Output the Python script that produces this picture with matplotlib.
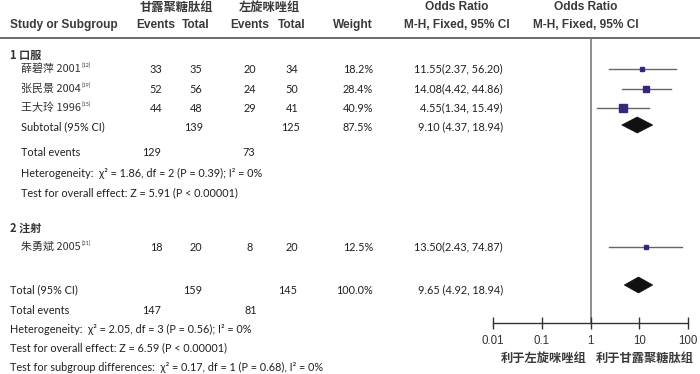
import matplotlib
matplotlib.use("Agg")
import matplotlib.pyplot as plt
from matplotlib.patches import Polygon
import numpy as np

# ---------------- data ----------------
groups = ["1 口服", "2 注射"]
study_names = ["薛碧萍 2001", "张民景 2004", "王大玲 1996", "朱勇斌 2005"]
study_refs = ["[12]", "[19]", "[15]", "[21]"]
study_group = [0, 0, 0, 1]
exp_events = [33, 52, 44, 18]
exp_total = [35, 56, 48, 20]
ctl_events = [20, 24, 29, 8]
ctl_total = [34, 50, 41, 20]
weights = [18.2, 28.4, 40.9, 12.5]
or_vals = [11.55, 14.08, 4.55, 13.50]
or_lo = [2.37, 4.42, 1.34, 2.43]
or_hi = [56.20, 44.86, 15.49, 74.87]

sub_exp_total = [139]
sub_ctl_total = [125]
sub_weight = [87.5]
sub_or = [9.10]
sub_lo = [4.37]
sub_hi = [18.94]
sub_exp_events = [129]
sub_ctl_events = [73]
sub_het = ["Heterogeneity:  χ² = 1.86, df = 2 (P = 0.39); I² = 0%"]
sub_test = ["Test for overall effect: Z = 5.91 (P < 0.00001)"]

tot_exp_total = 159
tot_ctl_total = 145
tot_weight = 100.0
tot_or = 9.65
tot_lo = 4.92
tot_hi = 18.94
tot_exp_events = 147
tot_ctl_events = 81
tot_het = "Heterogeneity:  χ² = 2.05, df = 3 (P = 0.56); I² = 0%"
tot_test = "Test for overall effect: Z = 6.59 (P < 0.00001)"
sub_diff = "Test for subgroup differences:  χ² = 0.17, df = 1 (P = 0.68), I² = 0%"

axis_ticks = [0.01, 0.1, 1, 10, 100]
axis_ticklabels = ["0.01", "0.1", "1", "10", "100"]
favours_left = "利于左旋咪唑组"
favours_right = "利于甘露聚糖肽组"
grp_exp_label = "甘露聚糖肽组"
grp_ctl_label = "左旋咪唑组"

# ---------------- layout ----------------
W, H = 700, 374
fig = plt.figure(figsize=(7.0, 3.74), dpi=100)
ax = fig.add_axes([0, 0, 1, 1])
ax.set_xlim(0, W)
ax.set_ylim(H, 0)
ax.axis("off")

TXT = "#231f20"
BODY = dict(family=["Lato", "DejaVu Sans"], fontsize=7.8, color=TXT, va="center")
CJK = dict(family=["Noto Sans CJK SC", "DejaVu Sans"], fontsize=7.9, color="#333333", va="center")
HEAD = dict(family=["Liberation Sans Narrow", "Liberation Sans", "DejaVu Sans"], fontsize=8.6,
            fontweight="bold", color="#3a3a3a", va="center")
HEADCJK = dict(family=["Noto Sans CJK SC"], fontsize=8.8, fontweight="bold", color="#3a3a3a", va="center")

x_ee, x_et, x_ce, x_ct = 156, 196, 250, 292
x_w = 373
x_or = 503
x_indent = 21
x_left = 10

# headers
ax.text(176, 7, grp_exp_label, ha="center", **HEADCJK)
ax.text(269, 7, grp_ctl_label, ha="center", **HEADCJK)
ax.text(x_left, 25, "Study or Subgroup", ha="left", **HEAD)
for xx, t in [(x_ee, "Events"), (x_et, "Total"), (x_ce, "Events"), (x_ct, "Total")]:
    ax.text(xx, 25, t, ha="center", **HEAD)
ax.text(x_w, 25, "Weight", ha="right", **HEAD)
ax.text(457, 7, "Odds Ratio", ha="center", **HEAD)
ax.text(457, 25, "M-H, Fixed, 95% CI", ha="center", **HEAD)
ax.text(586, 7, "Odds Ratio", ha="center", **HEAD)
ax.text(586, 25, "M-H, Fixed, 95% CI", ha="center", **HEAD)
ax.plot([0, W], [38, 38], color="#6a6a6a", lw=1.4, solid_capstyle="butt")

# forest axes
y_top, y_axis = 38, 323
axf = fig.add_axes([493 / W, (H - y_axis) / H, 195 / W, (y_axis - y_top) / H])
axf.set_xscale("log")
axf.set_xlim(axis_ticks[0], axis_ticks[-1])
axf.set_ylim(y_axis, y_top)
axf.patch.set_alpha(0)
for s in ["top", "left", "right"]:
    axf.spines[s].set_visible(False)
axf.spines["bottom"].set_color("#333333")
axf.spines["bottom"].set_linewidth(1.0)
axf.set_yticks([])
axf.set_xticks(axis_ticks)
axf.set_xticklabels(axis_ticklabels)
axf.minorticks_off()
axf.tick_params(axis="x", direction="inout", length=8, width=1.0, color="#333333",
                labelsize=8.3, labelcolor="#333333", pad=5)
for lab in axf.get_xticklabels():
    lab.set_family(["Liberation Sans", "DejaVu Sans"])
axf.axvline(1, color="#7a7a7a", lw=1.2, zorder=1)

SQ = "#3b2480"

def diamond(y, c, lo, hi, h=8):
    p = Polygon([[lo, y], [c, y - h], [hi, y], [c, y + h]], closed=True,
                facecolor="#111111", edgecolor="#111111", lw=0.5, zorder=3)
    axf.add_patch(p)

# rows
group_label_y = [55, 228]
study_y = [69, 89, 108, 247]
sub_y = [127]
sub_events_y = [152]
sub_het_y = [173]
sub_test_y = [193]

for gi, g in enumerate(groups):
    ax.text(x_left, group_label_y[gi], g, ha="left",
            family=["Noto Sans CJK SC"], fontsize=8.0, fontweight="bold", color="#333333", va="center")

name_texts = []
for i in range(len(study_names)):
    y = study_y[i]
    t = ax.text(x_indent, y, study_names[i], ha="left", **CJK)
    name_texts.append(t)
    ax.text(x_ee, y, str(exp_events[i]), ha="center", **BODY)
    ax.text(x_et, y, str(exp_total[i]), ha="center", **BODY)
    ax.text(x_ce, y, str(ctl_events[i]), ha="center", **BODY)
    ax.text(x_ct, y, str(ctl_total[i]), ha="center", **BODY)
    ax.text(x_w, y, f"{weights[i]:.1f}%", ha="right", **BODY)
    ax.text(x_or, y, f"{or_vals[i]:.2f}({or_lo[i]:.2f}, {or_hi[i]:.2f})", ha="right", **BODY)
    axf.plot([or_lo[i], or_hi[i]], [y, y], color="#666666", lw=1.0, zorder=2)
    axf.plot([or_vals[i]], [y], marker="s", linestyle="none", color=SQ,
             markersize=max(0.22 * weights[i], 3.6) * 0.72, zorder=3)

for k in range(len(sub_y)):
    ax.text(x_indent, sub_y[k], "Subtotal (95% CI)", ha="left", **BODY)
    ax.text(x_et - 2, sub_y[k], str(sub_exp_total[k]), ha="center", **BODY)
    ax.text(x_ct - 1, sub_y[k], str(sub_ctl_total[k]), ha="center", **BODY)
    ax.text(x_w, sub_y[k], f"{sub_weight[k]:.1f}%", ha="right", **BODY)
    ax.text(x_or, sub_y[k], f"{sub_or[k]:.2f} ({sub_lo[k]:.2f}, {sub_hi[k]:.2f})", ha="right", **BODY)
    diamond(sub_y[k] - 2, sub_or[k], sub_lo[k], sub_hi[k])
    ax.text(x_indent, sub_events_y[k], "Total events", ha="left", **BODY)
    ax.text(152, sub_events_y[k], str(sub_exp_events[k]), ha="center", **BODY)
    ax.text(249, sub_events_y[k], str(sub_ctl_events[k]), ha="center", **BODY)
    ax.text(x_indent, sub_het_y[k], sub_het[k], ha="left", **BODY)
    ax.text(x_indent, sub_test_y[k], sub_test[k], ha="left", **BODY)

# overall
y_tot = 290
ax.text(x_left, y_tot, "Total (95% CI)", ha="left", **BODY)
ax.text(x_et - 3, y_tot, str(tot_exp_total), ha="center", **BODY)
ax.text(x_ct - 4, y_tot, str(tot_ctl_total), ha="center", **BODY)
ax.text(x_w, y_tot, f"{tot_weight:.1f}%", ha="right", **BODY)
ax.text(x_or, y_tot, f"{tot_or:.2f} ({tot_lo:.2f}, {tot_hi:.2f})", ha="right", **BODY)
diamond(y_tot - 5, tot_or, tot_lo, tot_hi)
ax.text(x_left, 311, "Total events", ha="left", **BODY)
ax.text(152, 311, str(tot_exp_events), ha="center", **BODY)
ax.text(251, 311, str(tot_ctl_events), ha="center", **BODY)
ax.text(x_left, 329, tot_het, ha="left", **BODY)
ax.text(x_left, 348, tot_test, ha="left", **BODY)
ax.text(x_left, 367, sub_diff, ha="left", **BODY)

ax.text(544, 358, favours_left, ha="center", **HEADCJK)
ax.text(645, 358, favours_right, ha="center", **HEADCJK)

# superscript references
fig.canvas.draw()
rend = fig.canvas.get_renderer()
inv = ax.transData.inverted()
for t, ref in zip(name_texts, study_refs):
    bb = t.get_window_extent(renderer=rend)
    x1, y1 = inv.transform((bb.x1, bb.y1))
    ax.text(x1 + 0.5, y1 + 2, ref, ha="left", va="center",
            family=["Lato", "DejaVu Sans"], fontsize=3.8, color="#333333")

fig.savefig("out.png", dpi=100)
